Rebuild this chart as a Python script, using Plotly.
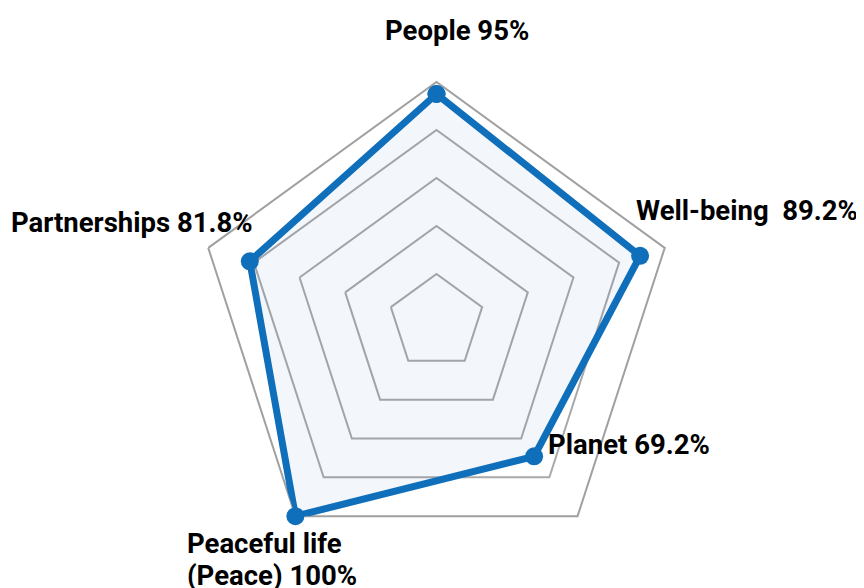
import plotly.graph_objects as go

# ---- data ----
categories = ["People", "Well-being", "Planet", "Peaceful life (Peace)", "Partnerships"]
values = [95, 89.2, 69.2, 100, 81.8]
label_texts = [
    "People 95%",
    "Well-being\u00a0 89.2%",
    "Planet 69.2%",
    "Peaceful life",
    "(Peace) 100%",
    "Partnerships 81.8%",
]
ring_values = [20, 40, 60, 80]

# ---- layout helpers ----
W, H = 864, 588
OFF = 8  # page body margin: figure is drawn 8px right/down of the window origin
cx, cy, R = 436.5 - OFF, 322 - OFF, 240  # figure-pixel center and radius of the radar

# label anchor positions in window pixels (x, y, xanchor)
label_pos = [
    (456.5, 30, "center"),
    (634, 210, "left"),
    (546, 444.5, "left"),
    (185, 543, "left"),
    (185, 575.5, "left"),
    (255, 222, "right"),
]

theta_closed = categories + [categories[0]]
r_closed = values + [values[0]]

fig = go.Figure()
fig.add_trace(go.Scatterpolar(
    r=r_closed,
    theta=theta_closed,
    mode="lines+markers",
    fill="toself",
    fillcolor="rgba(20,70,180,0.05)",
    line=dict(color="#0f6fba", width=7),
    marker=dict(color="#0f6fba", size=18),
    hoverinfo="skip",
    showlegend=False,
))

annotations = []
for txt, (px, py, xa) in zip(label_texts, label_pos):
    annotations.append(dict(
        text=txt, x=(px - OFF) / W, y=1 - (py - OFF) / H, xref="paper", yref="paper",
        xanchor=xa, yanchor="middle", showarrow=False, align="left",
        font=dict(family="Roboto", size=27.5, color="#000000", weight="bold"),
    ))

fig.update_layout(
    width=W, height=H,
    margin=dict(l=0, r=0, t=0, b=0),
    paper_bgcolor="white",
    showlegend=False,
    annotations=annotations,
    polar=dict(
        domain=dict(x=[(cx - R) / W, (cx + R) / W], y=[(H - cy - R) / H, (H - cy + R) / H]),
        bgcolor="white",
        gridshape="linear",
        radialaxis=dict(
            range=[0, 100], tickvals=ring_values, showticklabels=False, ticks="",
            showline=False, gridcolor="#a9a9a9", gridwidth=2, layer="below traces",
        ),
        angularaxis=dict(
            rotation=90, direction="clockwise", showticklabels=False, ticks="",
            showgrid=False, showline=True, linecolor="#a0a0a0", linewidth=2,
            layer="below traces",
        ),
    ),
)

fig.write_html("out.html")
